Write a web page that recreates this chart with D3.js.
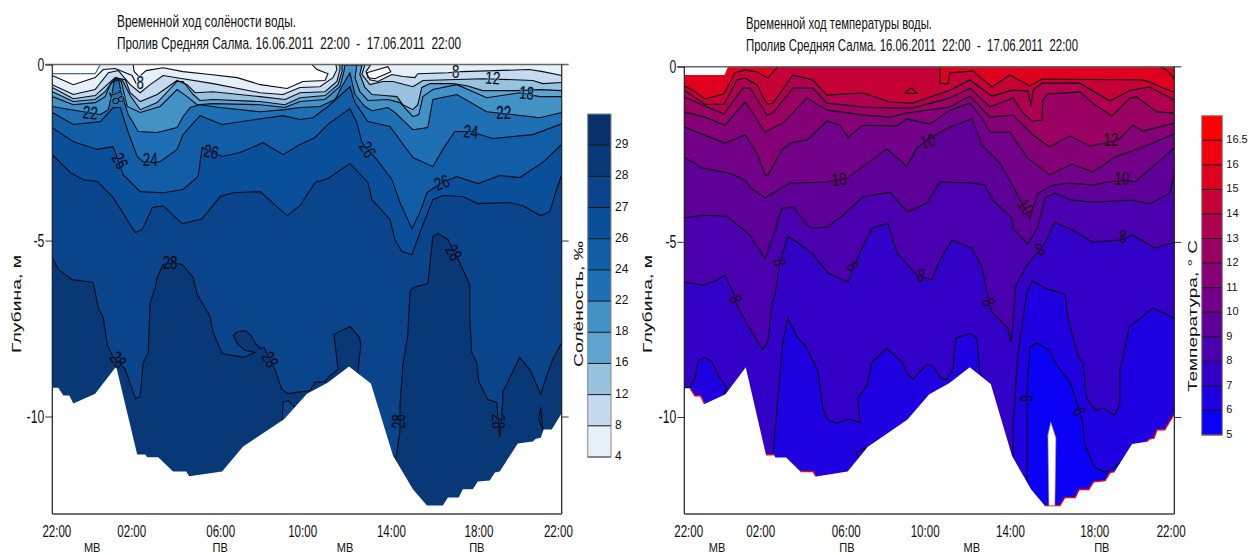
<!DOCTYPE html>
<html>
<head>
<meta charset="utf-8">
<script src="https://cdn.jsdelivr.net/npm/d3@7"></script>
<style>
  html, body { margin: 0; padding: 0; background: #fff; overflow: hidden; }
  text { white-space: pre; }
</style>
</head>
<body>
<script>
// время (часы от 22:00) и глубина (м)
const tickHours = [0.19, 3.72, 7.91, 11.77, 15.95, 20.08, 23.82];
const tickLabels = ['22:00', '02:00', '06:00', '10:00', '14:00', '18:00', '22:00'];
const tideLabels = ['МВ', 'ПВ', 'МВ', 'ПВ'];
const tideHoursS = [1.88, 7.91, 13.79, 20.0];
const tideHoursT = [1.6, 7.97, 14.08, 20.45];
const depthTicks = [0, 5, 10];
const maxDepth = 12.77;

const seabed = [[0,9.18],[.28,9.18],[.52,9.4],[.8,9.4],[.99,9.63],[2.02,9.35],[3.01,8.58],[4,11.08],[4.38,11.08],[4.47,11.16],[4.99,11.16],[5.69,11.56],[6.31,11.56],[6.45,11.7],[8,11.56],[8.99,10.85],[10.92,10.08],[12,9.35],[12.99,9.03],[13.98,8.58],[15.01,9.06],[16.05,11.11],[16.99,12.07],[17.65,12.53],[18.4,12.53],[18.64,12.3],[19.15,12.3],[19.34,12.07],[19.81,12.07],[20.05,11.85],[20.61,11.82],[20.85,11.59],[21.08,11.56],[21.93,10.77],[22.64,10.71],[22.78,10.63],[23.01,10.6],[23.15,10.37],[23.53,10.37],[24,9.91]];

// солёность
const salBands = ['#e6f0f9','#c6dbef','#97c3de','#5fa3d0','#4292c6','#1f6fb4','#125ea6','#0a4f9a','#0a458c','#093877','#08306b'];
const salLevels = ['4','8','12','16','18','22','24','26','27','28','29'];

const sNoData = [[0,0],[2.26,0],[2.02,.26],[0,.26]];
const sWhiteLeft = [[0,0],[2.26,0],[2.02,.37],[.99,.57],[0,.31]];
const s4a = [[0,.31],[.99,.57],[2.02,.37],[2.4,.14],[2.96,.11],[3.76,.31],[3.95,.54]];
const s4b = [[3.81,0],[3.86,.2],[4.09,.34],[4.42,.17],[5.22,.09],[6.16,.2],[7.44,.28],[8.71,.37],[9.79,.57],[11.06,.68],[11.81,.48],[12.85,.45],[12.99,.26],[12.47,.14],[12.24,0]];
const s4c = [[14.82,.23],[15.81,.06],[15.95,.2],[15.2,.4],[14.87,.37],[14.82,.23]];
const s8 = [[0,.57],[.99,.85],[2.02,.71],[2.64,.23],[3.11,.17],[3.67,.57],[4.14,.8],[4.61,.57],[5.22,.31],[6.16,.4],[7.58,.54],[9.79,.8],[10.87,.85],[11.67,.65],[12.61,.63],[13.22,.37],[13.41,.14],[13.36,0],[15.01,0],[14.78,.2],[14.96,.43],[15.34,.48],[16,.28],[16.52,.34],[17.08,.37],[17.22,.26],[18.64,.23],[19.29,.2],[22.49,.14],[23.11,.2],[24,.31]];
const s12 = [[0,.65],[.99,.97],[2.02,.88],[2.64,.54],[2.96,.37],[3.44,.43],[3.67,.8],[4.14,1.05],[4.94,.85],[5.88,.45],[6.35,.57],[6.73,.8],[7.58,.77],[9.79,.91],[10.96,.99],[11.67,.8],[12.85,.77],[13.41,.48],[13.55,.14],[13.55,0],[14.73,0],[14.59,.28],[14.96,.57],[15.58,.48],[16.05,.48],[16.99,.63],[17.46,.45],[20.28,.4],[22.64,.45],[23.11,.54],[24,.51]];
const s16 = [[0,.77],[.99,1.05],[2.02,.99],[2.49,.77],[2.82,.48],[3.29,.43],[3.67,.88],[4.14,1.28],[4.94,1.08],[5.88,.48],[6.16,.48],[6.64,.85],[6.96,1.02],[7.58,.99],[9.79,1.05],[10.96,1.14],[11.67,.94],[12.85,.88],[13.46,.57],[13.65,.2],[13.65,0],[14.59,0],[14.49,.28],[14.73,.65],[15.06,.85],[15.67,.88],[16.24,.91],[16.52,1.14],[16.99,1.28],[17.22,1.14],[17.41,.65],[17.79,.54],[18.87,.54],[19.53,.6],[20.28,.74],[21.88,.74],[22.96,.71],[24,.74]];
const s18 = [[0,.91],[.99,1.14],[2.02,1.08],[2.49,.91],[2.73,.57],[3.01,.37],[3.25,.48],[3.53,1.19],[4.14,1.36],[5.08,1.19],[5.88,.71],[6.35,.91],[6.82,1.14],[7.58,1.11],[9.79,1.14],[10.96,1.22],[11.67,1.05],[12.85,.99],[13.55,.63],[13.74,.2],[13.79,0],[14.35,0],[14.26,.37],[14.49,.77],[14.87,1.02],[15.81,.99],[16.38,1.08],[16.99,1.48],[17.27,1.42],[17.46,.91],[17.93,.71],[19.06,.57],[20.47,.94],[22.02,.8],[22.96,.91],[24,.91]];
const s22 = [[0,1.19],[1.46,1.34],[2.26,1.42],[2.64,1.28],[2.82,.8],[2.92,.43],[3.11,.4],[3.25,.8],[3.58,1.42],[4.05,1.9],[4.94,1.93],[5.88,1.79],[6.16,1.48],[6.49,1.22],[6.96,1.14],[7.91,1.22],[9.79,1.34],[10.96,1.28],[11.67,1.22],[12.61,1.19],[13.32,.99],[13.69,.57],[14.02,.23],[14.26,.85],[14.73,1.19],[15.06,1.31],[15.81,1.22],[16.14,1.36],[16.99,1.85],[17.69,1.79],[17.93,.99],[19.06,.85],[20.47,1.34],[21.65,1.42],[22.96,1.51],[24,1.36]];
const s24 = [[0,1.36],[.99,1.7],[2.26,1.62],[2.87,1.22],[3.2,1.22],[3.58,1.93],[4,2.61],[4.28,2.76],[5.08,2.76],[5.88,2.41],[6.16,1.99],[6.96,1.45],[8,1.7],[10.87,1.45],[11.67,1.56],[12.28,1.51],[12.99,1.19],[14.02,.63],[14.26,1.08],[14.87,1.62],[15.91,1.76],[16.99,2.64],[17.93,2.9],[18.4,2.41],[18.96,1.9],[19.67,1.9],[20.75,2.1],[22.64,1.99],[24,1.68]];
const s26 = [[0,1.79],[.99,2.19],[2.12,2.41],[2.87,2.33],[3.34,3.13],[4.14,3.61],[5.22,3.64],[6.16,3.55],[6.87,3.18],[7.06,2.36],[8,2.61],[8.85,2.5],[9.93,2.22],[10.87,2.56],[11.67,2.27],[12.38,2.07],[12.99,1.7],[14.02,1.25],[14.35,1.65],[14.59,2.22],[15.29,2.7],[16,3.27],[16.38,3.92],[16.94,4.66],[17.32,4.2],[17.65,3.64],[18.35,3.35],[19.06,3.18],[20.05,3.38],[21.08,3.15],[22.02,3.21],[23.11,2.78],[24,2.27]];
const s27 = [[0,2.56],[.85,3.07],[1.46,3.27],[2.12,3.32],[2.87,3.78],[3.91,4.77],[4.24,4.69],[4.71,4.06],[5.22,4.01],[6.12,4.52],[7.06,4.38],[7.91,3.75],[8.52,3.64],[9.79,3.61],[11.06,4.29],[11.67,4.01],[12.38,3.35],[12.99,3.24],[14.02,2.81],[14.87,3.35],[15.06,3.84],[15.91,4.4],[16.14,4.97],[16.47,5.31],[16.94,5.4],[17.41,4.63],[17.93,3.84],[18.4,3.72],[19.34,3.75],[20.05,3.95],[21.55,3.92],[22.16,4.01],[23.01,4.29],[23.44,4.18],[23.76,3.55],[24,3.13]];
const s28 = [[0,5.48],[.28,5.82],[.94,6.11],[1.93,6.19],[2.16,6.9],[2.4,7.19],[2.59,7.95],[2.87,8.32],[3.44,8.66],[3.91,9.49],[4.14,9.43],[4.28,8.47],[4.52,8.18],[4.61,6.76],[4.85,6.34],[4.94,6.05],[5.22,5.68],[5.69,5.63],[6.12,5.68],[6.64,6.05],[6.82,6.53],[7.44,7.16],[7.58,7.61],[8,8.21],[8.99,8.32],[9.55,8.18],[9.08,8.12],[8.75,7.95],[8.52,7.7],[8.71,7.59],[9.08,7.56],[9.32,7.67],[9.55,7.9],[9.79,8.07],[9.98,8.04],[10.49,8.66],[10.68,9],[10.82,9.23],[11.11,9.35],[12.14,9.26],[12.38,9.03],[12.85,9.01],[13.08,8.84],[13.46,8.66],[13.27,7.67],[14.02,7.44],[14.45,7.73],[14.54,7.95],[14.4,8.72],[15.06,10.37],[16.19,11.22],[16.38,10.43],[16.38,9.66],[16.52,8.52],[16.75,7.67],[16.85,6.45],[16.99,6.34],[17.69,6.22],[17.93,4.89],[18.16,4.8],[18.64,4.97],[19.2,5.63],[19.67,6.25],[19.67,7.24],[19.76,8.18],[20,8.47],[20.09,9],[20.52,9.52],[20.94,9.6],[21.08,10.6],[21.22,9.57],[21.22,9.32],[22.02,8.32],[22.49,8.66],[23.01,9.35],[23.53,8.44],[24,7.9]];
const s28lens = [[23.01,9.74],[23.11,10.37],[22.92,10.09],[23.01,9.74]];
const s28pocket = [[10.82,10.3],[10.87,9.6],[11.11,9.55],[11.44,9.74],[11.5,10.3]];

// текст, час, глубина, поворот, индекс цвета полосы (для разрыва линии)
const salLabels = [
  ['8',4.14,.51,0,1],['18',3.06,.91,70,4],['22',1.79,1.36,5,5],['24',4.61,2.7,0,6],['26',3.2,2.73,60,7],
  ['26',7.48,2.47,10,7],['28',5.55,5.63,0,9],['28',3.11,8.38,50,9],['28',10.26,8.38,60,9],['26',14.87,2.41,60,7],
  ['8',19.01,.2,0,1],['12',20.75,.37,5,2],['18',22.35,.8,5,4],['22',21.27,1.36,0,5],['24',19.72,1.9,5,6],
  ['26',18.35,3.35,-20,7],['28',18.92,5.34,60,9],['28',16.33,10.14,-90,9],['28',21.04,10.14,90,9]
];

// температура
const tempBands = ['#0a00f5','#1e00e0','#3300c8','#4a00ae','#5e0098','#720088','#850076','#990062','#ae004e','#c40036','#de001e','#f00010','#ff0000'];
const tempLevels = ['5','6','7','8','9','10','11','12','13','14','15','16','16.5'];

const tNoData = [[0,0],[2.14,0],[1.97,.24],[0,.24]];
const t15 = [[0,.55],[.43,.67],[1.01,.92],[1.94,.78],[2.48,.18],[2.97,.09],[3.56,.15],[4.1,.32],[4.59,0],[12.52,0],[12.52,.47],[12.91,.49],[13.01,.18],[14.14,.12],[15.07,.58],[15.95,.24],[16.93,.55],[17.52,.35],[22.46,.38],[22.8,.44],[23.44,.61],[24,.72]];
const t15corner = [[23.3,0],[23.69,.12],[24,.35]];
const t15spot = [[10.8,.76],[11.1,.61],[11.4,.76],[10.8,.76]];
const t14 = [[0,.67],[1.01,1.07],[1.94,1.07],[2.58,.38],[2.97,.32],[3.56,.52],[4.05,1.07],[4.34,1.04],[5.32,.24],[6.3,.38],[6.99,.81],[8.75,.75],[10.07,1.01],[11.2,1.04],[13.01,.67],[13.99,.38],[15.07,.84],[16.05,.67],[16.83,.69],[16.98,1.12],[17.08,.67],[17.52,.47],[19.38,.47],[20.85,.98],[21.83,.67],[22.8,.58],[24,.95]];
const t13 = [[0,.87],[1.01,1.12],[1.94,1.35],[2.87,.61],[3.22,.61],[4.05,1.38],[4.34,1.32],[5.32,.61],[6.3,.61],[6.99,1.04],[8.75,1.15],[10.07,1.18],[11.2,1.18],[13.01,.89],[13.99,.61],[14.97,1.15],[16.1,.89],[16.58,1.32],[17.03,1.55],[17.52,1.52],[17.56,.95],[17.81,.78],[19.38,.72],[20.01,1.04],[20.94,1.41],[21.83,.89],[22.17,.87],[23.15,1.29],[24,1.32]];
const t12 = [[0,1.29],[1.01,1.44],[1.99,1.67],[2.97,1.01],[3.36,1.32],[3.95,1.87],[4.83,1.61],[6.01,.89],[6.99,1.24],[8.75,1.38],[10.07,1.44],[10.9,1.32],[13.01,1.15],[13.99,.84],[14.97,1.44],[16.1,1.38],[17.08,1.95],[17.9,2.29],[18.89,1.98],[19.87,2.27],[20.6,2.18],[21.24,2.09],[21.97,1.67],[22.46,1.84],[24,1.61]];
const t11 = [[0,1.72],[1.99,2.18],[2.97,1.95],[3.56,2.47],[3.95,3.09],[4.1,3.09],[4.78,2.38],[5.18,2.18],[6.01,2.09],[6.99,1.55],[7.62,1.67],[8.02,2.01],[8.75,1.67],[10.42,1.69],[10.9,1.49],[12.03,1.64],[13.01,1.24],[13.99,1.04],[14.58,1.47],[14.97,1.87],[15.95,1.87],[16.78,2.58],[17.9,3.09],[18.98,2.78],[20.01,3.01],[21.09,2.58],[22.46,2.29],[24,1.92]];
const t10 = [[0,2.58],[.87,2.89],[2.24,3.04],[2.97,3.24],[3.22,3.44],[3.95,3.75],[5.18,3.32],[6.99,3.29],[7.97,3.18],[9.92,2.35],[10.9,2.84],[11.39,2.32],[12.03,2.04],[13.01,1.72],[14.09,1.49],[14.58,2.24],[15.46,2.75],[16.34,3.67],[16.93,4.32],[17.32,3.61],[18.05,3.38],[18.89,3.32],[20.01,3.38],[20.7,3.29],[21.67,3.24],[22.07,3.29],[24,2.32]];
const t9 = [[0,4.32],[.87,4.24],[2.09,4.27],[3.22,4.81],[3.95,5.49],[4.44,4.67],[4.78,4.04],[5.32,4.01],[6.16,4.61],[6.99,4.58],[7.77,4.24],[8.75,3.72],[10.07,3.58],[10.95,4.15],[11.88,3.89],[12.52,3.29],[14.14,3.32],[14.72,3.38],[15.11,3.81],[16.05,4.32],[16.1,4.61],[16.83,5.07],[17.32,4.58],[17.66,3.75],[18.15,3.61],[18.98,3.81],[20.01,3.87],[21.83,3.81],[22.8,3.92],[23.78,3.61],[24,3.09]];
const t8 = [[0,6.15],[.96,6.24],[1.6,6.09],[1.99,5.95],[2.38,6.44],[2.63,6.89],[3.61,7.87],[3.85,8.07],[4.1,7.81],[4.3,6.75],[4.44,6.52],[4.59,5.95],[4.69,5.58],[5.08,4.84],[5.52,5.01],[6.25,5.32],[7.04,5.89],[8.02,6.15],[8.26,5.72],[8.6,5.32],[9.19,4.61],[9.97,4.47],[10.42,5.32],[11.39,5.95],[12.13,6.09],[12.52,5.52],[13.11,4.95],[14.09,5.18],[14.58,5.72],[14.82,6.44],[15.07,7.01],[15.85,7.47],[16,7.87],[16.1,7.24],[16.24,6.24],[16.78,5.67],[17.27,5.32],[17.66,5.04],[18.15,4.44],[19.03,4.67],[20.01,5.01],[21.34,4.95],[21.97,4.81],[23.05,5.18],[24,5.01]];
const t7 = [[0,9.18],[.28,9.15],[.52,8.89],[.67,8.41],[1.01,8.29],[1.36,8.44],[1.6,8.75],[2.09,9.18],[1.94,9.38],[2.48,10.38],[3.71,11.52],[4.34,11.24],[4.34,11.09],[4.82,7.89],[5.08,7.18],[5.52,7.72],[5.91,7.95],[6.54,8.67],[6.79,9.75],[7.04,10.09],[7.48,10.18],[8.02,10.06],[8.6,10.15],[8.5,9.46],[8.95,9.09],[9.19,8.44],[9.92,8.04],[10.66,8.44],[10.9,8.75],[11.2,8.92],[11.88,8.49],[12.13,8.52],[12.62,8.92],[12.87,8.92],[13.16,8.61],[13.3,7.75],[13.99,7.61],[14.33,7.75],[14.48,8.72],[14.58,8.89],[15.21,10.09],[16.1,11.24],[16.1,10.24],[16.34,8.15],[16.78,6.44],[17.03,6.12],[17.81,6.35],[18.64,6.49],[18.79,7.18],[19.28,8.24],[19.52,8.47],[19.72,9.47],[20.11,9.81],[20.5,9.75],[21.09,9.95],[21.33,9.61],[21.33,8.72],[21.78,7.44],[22.95,6.89],[24,7.18]];
const t6 = [[16.78,12.23],[16.78,9.95],[16.78,9.18],[16.93,8],[17.27,7.89],[17.9,8.09],[18.15,8.44],[18.89,9.01],[19.23,9.61],[19.52,10.15],[19.62,10.81],[20.11,11.44],[20.6,11.58],[20.94,11.47],[21.33,11.32],[21.83,11.81]];
const t7lens = [[8.4,11.03],[8.85,10.88],[8.82,11.4],[8.4,11.03]];
const tSliver = [[17.95,10.15],[18.2,10.6],[18.15,12.53],[17.86,12.53],[17.81,10.52]];
const redEdges = [[.28,.99],[4,4.38],[5.69,6.45],[17.65,21.08],[22.64,24]];

const tempLabels = [
  ['10',7.58,3.21,-5,5],['10',11.93,2.12,-15,5],['10',21.43,3.18,0,5],['10',16.73,4,55,5],['12',20.9,2.07,0,7],
  ['8',21.48,4.84,0,3],['8',17.42,5.21,-30,3],['8',4.69,5.58,80,3],['8',8.26,5.69,60,3],['8',11.59,5.95,10,3],
  ['8',2.53,6.63,70,3],['8',14.92,6.72,70,3],['6',16.78,9.47,90,1],['6',19.38,9.84,70,1]
];

const svg = d3.select('body').append('svg')
  .attr('width', 1248).attr('height', 555)
  .style('display', 'block');

const wide = '"Liberation Sans", sans-serif';

function closeDown(line) {
  return line.concat([[line[line.length - 1][0], maxDepth], [line[0][0], maxDepth]]);
}

// узкое начертание: сжимаем обычный шрифт по горизонтали
function squeeze(sel, k) {
  sel.each(function () {
    this.setAttribute('textLength', this.getComputedTextLength() * k);
    this.setAttribute('lengthAdjust', 'spacingAndGlyphs');
  });
}

function drawPanel(p) {
  const x = d3.scaleLinear().domain([0, 24]).range([p.left, p.right]);
  const y = d3.scaleLinear().domain([0, maxDepth]).range([p.top, 514]);
  const path = d3.line().x(d => x(d[0])).y(d => y(d[1]));

  const clipId = 'clip' + p.id;
  svg.append('clipPath').attr('id', clipId).append('rect')
    .attr('x', p.left).attr('y', p.top).attr('width', p.right - p.left).attr('height', 514 - p.top);
  const g = svg.append('g').attr('clip-path', `url(#${clipId})`);

  g.append('rect').attr('x', p.left).attr('y', p.top)
    .attr('width', p.right - p.left).attr('height', 514 - p.top)
    .attr('fill', p.bands[p.background]);

  // белые участки сверху (нет данных) идут до заливок
  (p.whiteBefore || []).forEach(poly => {
    g.append('path').attr('d', path(poly) + 'Z').attr('fill', '#fff');
  });

  // заливка: каждая полоса от изолинии до дна, сверху вниз
  p.lines.forEach(l => {
    g.append('path').attr('d', path(closeDown(l.pts)) + 'Z').attr('fill', p.bands[l.band]);
  });
  (p.patches || []).forEach(l => {
    g.append('path').attr('d', path(l.pts) + 'Z').attr('fill', p.bands[l.band]);
  });

  g.selectAll('path.iso')
    .data(p.lines.map(l => l.pts).concat(p.strokes || []))
    .join('path').attr('class', 'iso')
    .attr('d', d => path(d))
    .attr('fill', 'none').attr('stroke', '#0a0a14').attr('stroke-width', 1.1);

  // дно
  g.append('path')
    .attr('d', path(seabed.concat([[24, maxDepth], [0, maxDepth]])) + 'Z')
    .attr('fill', '#fff');

  (p.redEdges || []).forEach(r => {
    const part = seabed.filter(d => d[0] >= r[0] && d[0] <= r[1]);
    g.append('path').attr('d', path(part)).attr('fill', 'none')
      .attr('stroke', '#ff0000').attr('stroke-width', 1.3);
  });
  (p.whiteAfter || []).forEach(poly => {
    g.append('path').attr('d', path(poly) + 'Z').attr('fill', '#fff');
  });
  (p.slivers || []).forEach(poly => {
    g.append('path').attr('d', path(poly) + 'Z').attr('fill', '#fff').attr('stroke', '#999').attr('stroke-width', .6);
  });
  if (p.noDataStroke) {
    g.append('path').attr('d', path(p.noDataStroke)).attr('fill', 'none')
      .attr('stroke', p.noDataColor).attr('stroke-width', 1);
  }

  // подписи изолиний
  svg.append('g').selectAll('text').data(p.labels).join('text')
    .attr('transform', d => `translate(${x(d[1])},${y(d[2])}) rotate(${d[3]}) scale(.74,1)`)
    .attr('text-anchor', 'middle').attr('dy', '.36em')
    .attr('font-family', wide).attr('font-size', 18).attr('fill', '#0a0a14')
    .attr('paint-order', 'stroke').attr('stroke', d => p.bands[d[4]]).attr('stroke-width', 1.5)
    .text(d => d[0]);

  // рамка
  const frame = svg.append('g').attr('fill', 'none');
  frame.append('line').attr('x1', p.left - 7).attr('x2', p.right + 7).attr('y1', p.top).attr('y2', p.top)
    .attr('stroke', '#666').attr('stroke-width', 1.5);
  frame.append('line').attr('x1', p.left).attr('x2', p.left).attr('y1', p.top).attr('y2', 514)
    .attr('stroke', '#222').attr('stroke-width', 1.2);
  frame.append('line').attr('x1', p.right).attr('x2', p.right).attr('y1', p.top).attr('y2', 514)
    .attr('stroke', '#222').attr('stroke-width', 1.2);
  frame.append('line').attr('x1', p.left).attr('x2', p.right).attr('y1', 514).attr('y2', 514)
    .attr('stroke', '#444').attr('stroke-width', 1.5);

  // оси
  const axL = svg.append('g').attr('transform', `translate(${p.left},0)`)
    .call(d3.axisLeft(y).tickValues(depthTicks).tickSize(7).tickFormat(d => d ? `-${d}` : '0'));
  axL.select('.domain').remove();
  axL.selectAll('line').attr('stroke', '#333');
  axL.selectAll('text').attr('font-family', wide).attr('font-size', 18).attr('fill', '#111').attr('x', -8)
    .call(squeeze, .68);

  const axR = svg.append('g').attr('transform', `translate(${p.right},0)`)
    .call(d3.axisRight(y).tickValues(depthTicks.slice(1)).tickSize(7).tickFormat(''));
  axR.select('.domain').remove();
  axR.selectAll('line').attr('stroke', '#333');

  const axB = svg.append('g').attr('transform', 'translate(0,514)')
    .call(d3.axisBottom(x).tickValues(tickHours).tickSize(0).tickFormat((d, i) => tickLabels[i]));
  axB.select('.domain').remove();
  axB.selectAll('text').attr('font-family', wide).attr('font-size', 17).attr('fill', '#111').attr('y', 10.5)
    .call(squeeze, .68);

  svg.append('g').selectAll('text').data(tideLabels).join('text')
    .attr('x', (d, i) => x(p.tideHours[i])).attr('y', 552)
    .attr('text-anchor', 'middle').attr('font-family', wide).attr('font-size', 13).attr('fill', '#111')
    .text(d => d)
    .call(squeeze, .85);

  // заголовок
  svg.append('text').attr('x', p.titleX).attr('y', p.titleY)
    .attr('font-family', wide).attr('font-size', 17).attr('fill', '#111')
    .attr('textLength', p.titleLen[0]).attr('lengthAdjust', 'spacingAndGlyphs').text(p.title[0]);
  svg.append('text').attr('x', p.titleX).attr('y', p.titleY + 22)
    .attr('font-family', wide).attr('font-size', 17).attr('fill', '#111')
    .attr('textLength', p.titleLen[1]).attr('lengthAdjust', 'spacingAndGlyphs').text(p.title[1]);

  // подпись оси Y
  svg.append('text')
    .attr('transform', `translate(${p.yTitleX},353) rotate(-90)`)
    .attr('font-family', wide).attr('font-size', 13).attr('fill', '#111')
    .attr('textLength', 98).attr('lengthAdjust', 'spacingAndGlyphs')
    .text('Глубина, м');

  // легенда
  const n = p.levels.length;
  const ly = d3.scaleLinear().domain([0, n]).range([p.legBottom, p.legTop]);
  const leg = svg.append('g');
  leg.selectAll('rect').data(p.levels).join('rect')
    .attr('x', p.legX).attr('width', p.legW)
    .attr('y', (d, i) => ly(i + 1)).attr('height', (d, i) => ly(i) - ly(i + 1))
    .attr('fill', (d, i) => p.bands[i]);
  leg.selectAll('line').data(p.levels).join('line')
    .attr('x1', p.legX).attr('x2', p.legX + p.legW)
    .attr('y1', (d, i) => ly(i)).attr('y2', (d, i) => ly(i))
    .attr('stroke', '#111').attr('stroke-width', 1);
  leg.append('rect').attr('x', p.legX).attr('y', p.legTop)
    .attr('width', p.legW).attr('height', p.legBottom - p.legTop)
    .attr('fill', 'none').attr('stroke', '#888').attr('stroke-width', 1);
  leg.selectAll('text').data(p.levels).join('text')
    .attr('x', p.legX + p.legW + 4).attr('y', (d, i) => ly(i) + 3)
    .attr('font-family', wide).attr('font-size', p.legFont).attr('fill', '#111')
    .text(d => d);

  svg.append('text')
    .attr('transform', `translate(${p.legTitleX},${p.legTitleBottom}) rotate(-90)`)
    .attr('font-family', wide).attr('font-size', 13.5).attr('fill', '#111')
    .attr('textLength', p.legTitleLen).attr('lengthAdjust', 'spacingAndGlyphs')
    .text(p.legTitle);
}

drawPanel({
  id: 'S', left: 52.3, right: 561.7, top: 64.6, bands: salBands, levels: salLevels, background: 0,
  whiteBefore: [sWhiteLeft, s4b, s4c],
  lines: [
    { pts: s8, band: 1 }, { pts: s12, band: 2 }, { pts: s16, band: 3 }, { pts: s18, band: 4 },
    { pts: s22, band: 5 }, { pts: s24, band: 6 }, { pts: s26, band: 7 }, { pts: s27, band: 8 }, { pts: s28, band: 9 }
  ],
  patches: [{ pts: s28pocket, band: 8 }],
  strokes: [s4a, s4b, s4c, s28lens, s28pocket],
  noDataStroke: sNoData.slice(1).concat([sNoData[3]]), noDataColor: '#0d3f80',
  labels: salLabels, tideHours: tideHoursS,
  title: ['Временной ход солёности воды.', 'Пролив Средняя Салма. 16.06.2011  22:00  -  17.06.2011  22:00'],
  titleLen: [179, 344],
  titleX: 117, titleY: 27, yTitleX: 21,
  legX: 587.7, legW: 23.3, legTop: 114, legBottom: 457, legFont: 12,
  legTitle: 'Солёность, ‰', legTitleX: 583, legTitleBottom: 367, legTitleLen: 126
});

drawPanel({
  id: 'T', left: 684.3, right: 1174.3, top: 66.7, bands: tempBands, levels: tempLevels, background: 10,
  whiteBefore: [],
  lines: [
    { pts: t15, band: 9 }, { pts: t14, band: 8 }, { pts: t13, band: 7 }, { pts: t12, band: 6 },
    { pts: t11, band: 5 }, { pts: t10, band: 4 }, { pts: t9, band: 3 }, { pts: t8, band: 2 },
    { pts: t7, band: 1 }, { pts: t6, band: 0 }
  ],
  patches: [{ pts: t15spot, band: 10 }],
  strokes: [t15corner, t15spot, t7lens],
  whiteAfter: [tNoData],
  slivers: [tSliver],
  redEdges: redEdges,
  labels: tempLabels, tideHours: tideHoursT,
  title: ['Временной ход температуры воды.', 'Пролив Средняя Салма. 16.06.2011  22:00  -  17.06.2011  22:00'],
  titleLen: [186, 332],
  titleX: 746, titleY: 29, yTitleX: 652,
  legX: 1201.7, legW: 20.6, legTop: 115.7, legBottom: 435, legFont: 11,
  legTitle: 'Температура, ° С', legTitleX: 1197, legTitleBottom: 392, legTitleLen: 152
});
</script>
</body>
</html>
